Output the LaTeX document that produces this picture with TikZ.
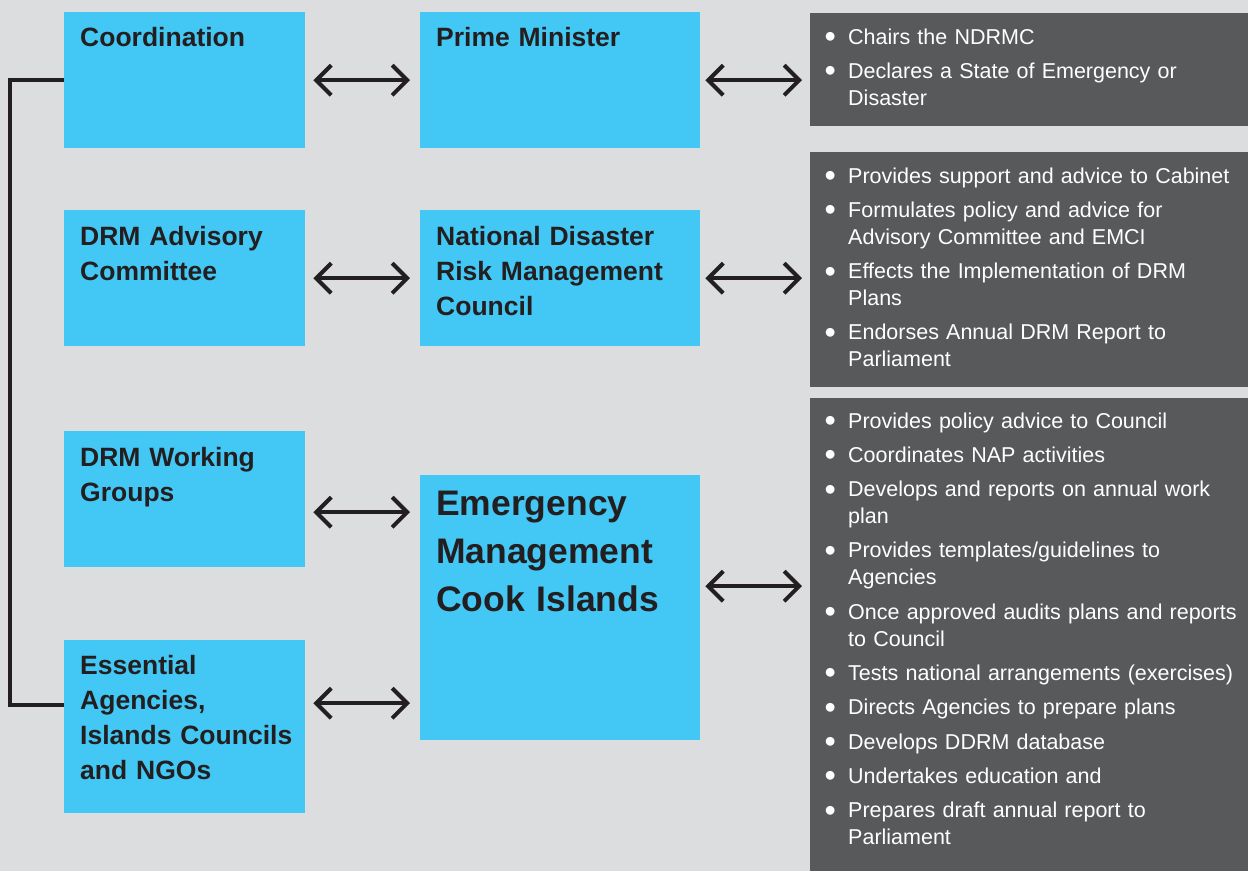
\documentclass[tikz,border=0pt]{standalone}
\usepackage{fontspec}
\setmainfont{Liberation Sans}
\usetikzlibrary{arrows.meta,calc}

\definecolor{bggrey}{HTML}{DCDDDF}
\definecolor{boxblue}{HTML}{43C8F5}
\definecolor{panelgrey}{HTML}{58595B}
\definecolor{ink}{HTML}{231F20}

\newcommand\dutydot{\makebox[24pt][l]{\hspace{0.5pt}\raisebox{-3.4pt}{\scalebox{1.5}{\textbullet}}}}
\newcommand\fitm{\parskip=7.3pt\hangindent=24pt\hangafter=1\noindent\dutydot}
\newcommand\itm{\par\fitm}

\begin{document}
\begin{tikzpicture}[x=1pt,y=-1pt,>={Straight Barb[length=15pt,width=30pt]},
    box/.style={fill=boxblue, anchor=north west, inner sep=0},
    panel/.style={fill=panelgrey, anchor=north west, inner sep=0, minimum width=438pt},
    title/.style={anchor=base west, inner sep=0, text=ink, text width=260pt, align=left,
      font=\bfseries\fontsize{26.5}{35}\selectfont},
    bigtitle/.style={title, font=\bfseries\fontsize{35.5}{48}\selectfont},
    duties/.style={anchor=base west, inner sep=0, text=white, text width=430pt, align=left,
      font=\fontsize{21.5}{27}\selectfont},
    link/.style={<->, draw=ink, line width=4pt},
    spine/.style={draw=ink, line width=4.5pt}]
      \fill[bggrey] (0,0) rectangle (1248,871);
      \useasboundingbox (0,0) rectangle (1248,871);

      \node[box, minimum width=241pt, minimum height=136pt] (coord) at (64,12) {};
      \node[box, minimum width=280pt, minimum height=136pt] (pm) at (420,12) {};
      \node[box, minimum width=241pt, minimum height=136pt] (adv) at (64,210) {};
      \node[box, minimum width=280pt, minimum height=136pt] (ndrmc) at (420,210) {};
      \node[box, minimum width=241pt, minimum height=136pt] (wg) at (64,431) {};
      \node[box, minimum width=241pt, minimum height=173pt] (ess) at (64,640) {};
      \node[box, minimum width=280pt, minimum height=265pt] (em) at (420,475) {};

      \node[title] (coordtx) at ([shift={(16,34)}]coord.north west) {Coordination};
      \node[title] (pmtx) at ([shift={(16,34)}]pm.north west) {Prime Minister};
      \node[title] (advtx) at ([shift={(16,35)}]adv.north west) {DRM Advisory\\Committee};
      \node[title] (ndrmctx) at ([shift={(16,35)}]ndrmc.north west) {National Disaster\\Risk Management\\Council};
      \node[title] (wgtx) at ([shift={(16,35)}]wg.north west) {DRM Working\\Groups};
      \node[title] (esstx) at ([shift={(16,34)}]ess.north west) {Essential\\Agencies,\\Islands Councils\\and NGOs};
      \node[bigtitle] (emtx) at ([shift={(16,40)}]em.north west) {Emergency\\Management\\Cook Islands};

      \node[panel, minimum height=113pt] (pmduty) at (810,13) {};
      \node[panel, minimum height=235pt] (ndrmcduty) at (810,152) {};
      \node[panel, minimum height=473pt] (emduty) at (810,398) {};

      \node[duties] (pmlist) at ([shift={(14,31)}]pmduty.north west)
        {\fitm Chairs the NDRMC
         \itm Declares a State of Emergency or\newline Disaster\par};
      \node[duties] (ndrmclist) at ([shift={(14,31)}]ndrmcduty.north west)
        {\fitm Provides support and advice to Cabinet
         \itm Formulates policy and advice for\newline Advisory Committee and EMCI
         \itm Effects the Implementation of DRM\newline Plans
         \itm Endorses Annual DRM Report to\newline Parliament\par};
      \node[duties] (emlist) at ([shift={(14,30)}]emduty.north west)
        {\fitm Provides policy advice to Council
         \itm Coordinates NAP activities
         \itm Develops and reports on annual work\newline plan
         \itm Provides templates/guidelines to\newline Agencies
         \itm Once approved audits plans and reports\newline to Council
         \itm Tests national arrangements (exercises)
         \itm Directs Agencies to prepare plans
         \itm Develops DDRM database
         \itm Undertakes education and
         \itm Prepares draft annual report to\newline Parliament\par};

      \coordinate (wgarr) at ($(wg.east)+(0,13)$);
      \coordinate (essarr) at ($(ess.east)+(0,-23.5)$);
      \coordinate (emarr) at ($(em.east)+(0,-21.5)$);
      \coordinate (essjoin) at ($(ess.west)+(0,-21.5)$);

      \draw[link, shorten <=8pt, shorten >=10pt] (coord) -- (pm);
      \draw[link, shorten <=8pt, shorten >=10pt] (adv) -- (ndrmc);
      \draw[link, shorten <=8pt, shorten >=10pt] (wgarr) -- (wgarr -| em.west);
      \draw[link, shorten <=8pt, shorten >=10pt] (essarr) -- (essarr -| em.west);
      \draw[link, shorten <=5pt, shorten >=8pt] (pm.east) -- (pm.east -| pmduty.west);
      \draw[link, shorten <=5pt, shorten >=8pt] (ndrmc.east) -- (ndrmc.east -| ndrmcduty.west);
      \draw[link, shorten <=5pt, shorten >=8pt] (emarr) -- (emarr -| emduty.west);

      \draw[spine] (coord.west) -- ++(-54,0) |- (essjoin);
    \end{tikzpicture}
\end{document}
